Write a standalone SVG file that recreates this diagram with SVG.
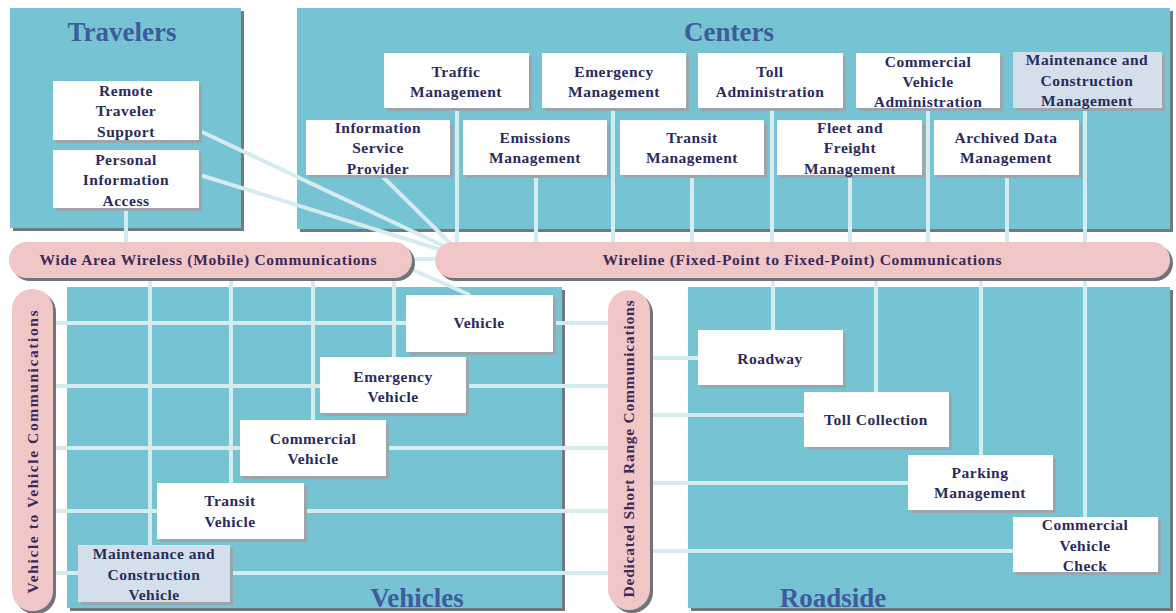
<svg xmlns="http://www.w3.org/2000/svg" width="1176" height="613" viewBox="0 0 1176 613">
  <style>
    .panel { fill: #76c3d3; }
    .pshadow { fill: #6f7b82; }
    .box { fill: #ffffff; }
    .box.mc { fill: #d3dfeb; }
    .bshadow { fill: #9aa6ad; }
    .bar { fill: #f1c6c6; }
    .barshadow { fill: #6f7478; }
    .link { stroke: #d4ecef; stroke-width: 4; fill: none; }
    .label { font-family: "Liberation Serif", "Times New Roman", serif; font-weight: bold; font-size: 15.5px; letter-spacing: 0.5px; fill: #2b2a5c; text-anchor: middle; }
    .barlabel { font-family: "Liberation Serif", "Times New Roman", serif; font-weight: bold; font-size: 15.5px; fill: #3a2a5a; text-anchor: middle; }
    .title { font-family: "Liberation Serif", "Times New Roman", serif; font-weight: bold; font-size: 27px; fill: #3e5b9c; text-anchor: middle; }
  </style>

  <rect width="1176" height="613" fill="#ffffff"/>

  <!-- Subsystem panels -->
  <g id="panel-travelers">
    <rect class="pshadow" x="13" y="11" width="231" height="220"/>
    <rect class="panel" x="10" y="8" width="231" height="220"/>
    <text class="title" x="122" y="41">Travelers</text>
  </g>
  <g id="panel-centers">
    <rect class="pshadow" x="300" y="11" width="873" height="221"/>
    <rect class="panel" x="297" y="8" width="873" height="221"/>
    <text class="title" x="729" y="41">Centers</text>
  </g>
  <g id="panel-vehicles">
    <rect class="pshadow" x="70" y="290" width="495" height="321"/>
    <rect class="panel" x="67" y="287" width="495" height="321"/>
  </g>
  <g id="panel-roadside">
    <rect class="pshadow" x="691" y="290" width="482" height="321"/>
    <rect class="panel" x="688" y="287" width="482" height="321"/>
  </g>

  <!-- Connectors -->
  <g id="connectors" class="link">
    <!-- travelers to the buses -->
    <line x1="200" y1="131" x2="448" y2="248"/>
    <line x1="200" y1="175" x2="448" y2="252"/>
    <line x1="126" y1="208" x2="126" y2="244"/>
    <line x1="383" y1="177" x2="455" y2="248"/>
    <line x1="405" y1="259" x2="440" y2="259"/>
    <!-- centers down to the wireline bus -->
    <line x1="457" y1="108" x2="457" y2="244"/>
    <line x1="536" y1="175" x2="536" y2="244"/>
    <line x1="613" y1="108" x2="613" y2="244"/>
    <line x1="692" y1="175" x2="692" y2="244"/>
    <line x1="772" y1="108" x2="772" y2="244"/>
    <line x1="850" y1="175" x2="850" y2="244"/>
    <line x1="928" y1="108" x2="928" y2="244"/>
    <line x1="1007" y1="175" x2="1007" y2="244"/>
    <line x1="1085" y1="108" x2="1085" y2="244"/>
    <!-- wide area wireless down to vehicles -->
    <line x1="470" y1="295" x2="395" y2="262"/>
    <line x1="394" y1="276" x2="394" y2="357"/>
    <line x1="313" y1="276" x2="313" y2="420"/>
    <line x1="231" y1="276" x2="231" y2="483"/>
    <line x1="150" y1="276" x2="150" y2="545"/>
    <!-- wireline down to roadside -->
    <line x1="773" y1="276" x2="773" y2="330"/>
    <line x1="876" y1="276" x2="876" y2="392"/>
    <line x1="981" y1="276" x2="981" y2="455"/>
    <line x1="1085" y1="276" x2="1085" y2="517"/>
    <!-- vehicle to vehicle bus and DSRC bus -->
    <line x1="50" y1="323" x2="610" y2="323"/>
    <line x1="50" y1="386" x2="610" y2="386"/>
    <line x1="50" y1="448" x2="610" y2="448"/>
    <line x1="50" y1="511" x2="610" y2="511"/>
    <line x1="50" y1="573" x2="610" y2="573"/>
    <!-- DSRC to roadside -->
    <line x1="648" y1="358" x2="698" y2="358"/>
    <line x1="648" y1="415" x2="804" y2="415"/>
    <line x1="648" y1="483" x2="908" y2="483"/>
    <line x1="648" y1="551" x2="1013" y2="551"/>
  </g>

  <!-- Communication buses -->
  <g id="bus-wide-area">
    <rect class="barshadow" x="12" y="245" width="403" height="36" rx="18"/>
    <rect class="bar" x="9" y="242" width="403" height="36" rx="18"/>
    <text class="barlabel" x="208" y="265" textLength="337" lengthAdjust="spacing">Wide Area Wireless (Mobile) Communications</text>
  </g>
  <g id="bus-wireline">
    <rect class="barshadow" x="438" y="245" width="735" height="36" rx="18"/>
    <rect class="bar" x="435" y="242" width="735" height="36" rx="18"/>
    <text class="barlabel" x="802" y="265" textLength="399" lengthAdjust="spacing">Wireline (Fixed-Point to Fixed-Point) Communications</text>
  </g>
  <g id="bus-v2v">
    <rect class="barshadow" x="15" y="292" width="41" height="322" rx="20"/>
    <rect class="bar" x="12" y="289" width="41" height="322" rx="20"/>
    <text class="barlabel" transform="translate(38 452) rotate(-90)" textLength="283" lengthAdjust="spacing">Vehicle to Vehicle Communications</text>
  </g>
  <g id="bus-dsrc">
    <rect class="barshadow" x="611" y="293" width="42" height="320" rx="21"/>
    <rect class="bar" x="608" y="290" width="42" height="320" rx="21"/>
    <text class="barlabel" transform="translate(634 449) rotate(-90)" textLength="297" lengthAdjust="spacing">Dedicated Short Range Communications</text>
  </g>

  <!-- Travelers -->
  <g id="remote-traveler-support">
    <rect class="bshadow" x="56" y="84" width="146" height="59"/>
    <rect class="box" x="53" y="81" width="146" height="59"/>
    <text class="label" x="126" y="96">Remote</text>
    <text class="label" x="126" y="116">Traveler</text>
    <text class="label" x="126" y="137">Support</text>
  </g>
  <g id="personal-information-access">
    <rect class="bshadow" x="56" y="153" width="146" height="58"/>
    <rect class="box" x="53" y="150" width="146" height="58"/>
    <text class="label" x="126" y="165">Personal</text>
    <text class="label" x="126" y="185">Information</text>
    <text class="label" x="126" y="206">Access</text>
  </g>

  <!-- Centers -->
  <g id="traffic-management">
    <rect class="bshadow" x="387" y="56" width="145" height="55"/>
    <rect class="box" x="384" y="53" width="145" height="55"/>
    <text class="label" x="456" y="77">Traffic</text>
    <text class="label" x="456" y="97">Management</text>
  </g>
  <g id="emergency-management">
    <rect class="bshadow" x="545" y="56" width="144" height="55"/>
    <rect class="box" x="542" y="53" width="144" height="55"/>
    <text class="label" x="614" y="77">Emergency</text>
    <text class="label" x="614" y="97">Management</text>
  </g>
  <g id="toll-administration">
    <rect class="bshadow" x="701" y="56" width="145" height="55"/>
    <rect class="box" x="698" y="53" width="145" height="55"/>
    <text class="label" x="770" y="77">Toll</text>
    <text class="label" x="770" y="97">Administration</text>
  </g>
  <g id="commercial-vehicle-administration">
    <rect class="bshadow" x="859" y="56" width="144" height="55"/>
    <rect class="box" x="856" y="53" width="144" height="55"/>
    <text class="label" x="928" y="67">Commercial</text>
    <text class="label" x="928" y="87">Vehicle</text>
    <text class="label" x="928" y="107">Administration</text>
  </g>
  <g id="maintenance-construction-management">
    <rect class="bshadow" x="1016" y="55" width="149" height="56"/>
    <rect class="box mc" x="1013" y="52" width="149" height="56"/>
    <text class="label" x="1087" y="65">Maintenance and</text>
    <text class="label" x="1087" y="86">Construction</text>
    <text class="label" x="1087" y="106">Management</text>
  </g>
  <g id="information-service-provider">
    <rect class="bshadow" x="309" y="123" width="144" height="55"/>
    <rect class="box" x="306" y="120" width="144" height="55"/>
    <text class="label" x="378" y="133">Information</text>
    <text class="label" x="378" y="153">Service</text>
    <text class="label" x="378" y="174">Provider</text>
  </g>
  <g id="emissions-management">
    <rect class="bshadow" x="466" y="123" width="144" height="55"/>
    <rect class="box" x="463" y="120" width="144" height="55"/>
    <text class="label" x="535" y="143">Emissions</text>
    <text class="label" x="535" y="163">Management</text>
  </g>
  <g id="transit-management">
    <rect class="bshadow" x="623" y="123" width="144" height="55"/>
    <rect class="box" x="620" y="120" width="144" height="55"/>
    <text class="label" x="692" y="143">Transit</text>
    <text class="label" x="692" y="163">Management</text>
  </g>
  <g id="fleet-freight-management">
    <rect class="bshadow" x="780" y="123" width="145" height="55"/>
    <rect class="box" x="777" y="120" width="145" height="55"/>
    <text class="label" x="850" y="133">Fleet and</text>
    <text class="label" x="850" y="153">Freight</text>
    <text class="label" x="850" y="174">Management</text>
  </g>
  <g id="archived-data-management">
    <rect class="bshadow" x="937" y="123" width="145" height="55"/>
    <rect class="box" x="934" y="120" width="145" height="55"/>
    <text class="label" x="1006" y="143">Archived Data</text>
    <text class="label" x="1006" y="163">Management</text>
  </g>

  <!-- Vehicles -->
  <g id="vehicle">
    <rect class="bshadow" x="409" y="298" width="147" height="57"/>
    <rect class="box" x="406" y="295" width="147" height="57"/>
    <text class="label" x="479" y="328">Vehicle</text>
  </g>
  <g id="emergency-vehicle">
    <rect class="bshadow" x="323" y="360" width="146" height="56"/>
    <rect class="box" x="320" y="357" width="146" height="56"/>
    <text class="label" x="393" y="382">Emergency</text>
    <text class="label" x="393" y="402">Vehicle</text>
  </g>
  <g id="commercial-vehicle">
    <rect class="bshadow" x="243" y="423" width="146" height="56"/>
    <rect class="box" x="240" y="420" width="146" height="56"/>
    <text class="label" x="313" y="444">Commercial</text>
    <text class="label" x="313" y="464">Vehicle</text>
  </g>
  <g id="transit-vehicle">
    <rect class="bshadow" x="160" y="486" width="147" height="56"/>
    <rect class="box" x="157" y="483" width="147" height="56"/>
    <text class="label" x="230" y="506">Transit</text>
    <text class="label" x="230" y="527">Vehicle</text>
  </g>
  <g id="maintenance-construction-vehicle">
    <rect class="bshadow" x="81" y="548" width="152" height="57"/>
    <rect class="box mc" x="78" y="545" width="152" height="57"/>
    <text class="label" x="154" y="559">Maintenance and</text>
    <text class="label" x="154" y="580">Construction</text>
    <text class="label" x="154" y="600">Vehicle</text>
  </g>
  <text class="title" x="417" y="607">Vehicles</text>

  <!-- Roadside -->
  <g id="roadway">
    <rect class="bshadow" x="701" y="333" width="145" height="55"/>
    <rect class="box" x="698" y="330" width="145" height="55"/>
    <text class="label" x="770" y="364">Roadway</text>
  </g>
  <g id="toll-collection">
    <rect class="bshadow" x="807" y="395" width="145" height="55"/>
    <rect class="box" x="804" y="392" width="145" height="55"/>
    <text class="label" x="876" y="425">Toll Collection</text>
  </g>
  <g id="parking-management">
    <rect class="bshadow" x="911" y="458" width="145" height="55"/>
    <rect class="box" x="908" y="455" width="145" height="55"/>
    <text class="label" x="980" y="478">Parking</text>
    <text class="label" x="980" y="498">Management</text>
  </g>
  <g id="commercial-vehicle-check">
    <rect class="bshadow" x="1016" y="520" width="145" height="55"/>
    <rect class="box" x="1013" y="517" width="145" height="55"/>
    <text class="label" x="1085" y="530">Commercial</text>
    <text class="label" x="1085" y="551">Vehicle</text>
    <text class="label" x="1085" y="571">Check</text>
  </g>
  <text class="title" x="833" y="607">Roadside</text>
</svg>
